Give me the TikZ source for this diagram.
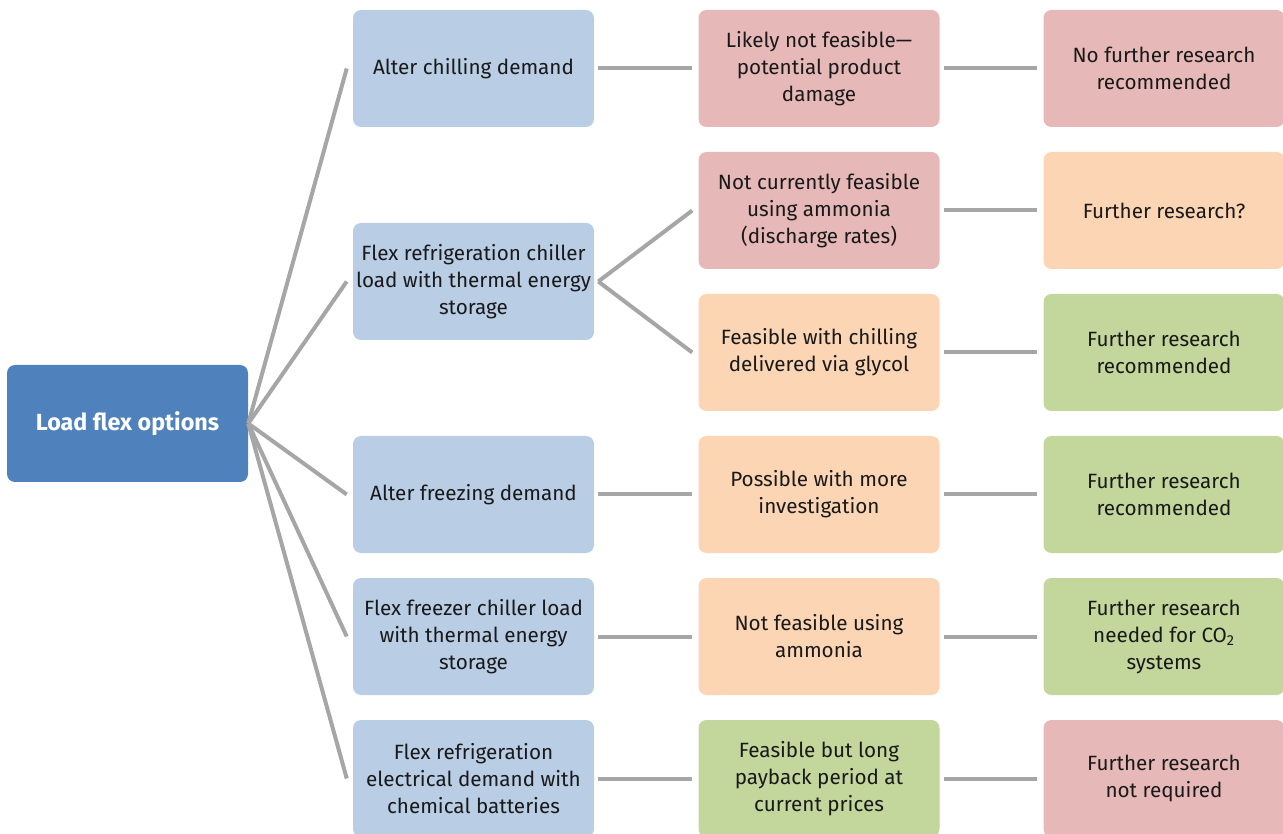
\documentclass[tikz,border=0pt]{standalone}
\usepackage{fontspec}
\setmainfont{Fira Sans}
\begin{document}
\begin{tikzpicture}[x=0.75pt,y=-0.75pt,
  every node/.style={inner sep=0pt},
  box/.style={rounded corners=6pt, minimum width=180.75pt, minimum height=87.75pt, align=center,
    font=\fontsize{15.5pt}{20.25pt}\selectfont, text=black!90},
  root/.style={box, fill=rootblue, text=white, font=\fontsize{17.5pt}{20.25pt}\selectfont\bfseries},
  opt/.style={box, fill=optblue},
  red/.style={box, fill=boxred},
  org/.style={box, fill=boxorange},
  grn/.style={box, fill=boxgreen},
  link/.style={draw=linegray, line width=3pt}
]
\definecolor{rootblue}{HTML}{4F81BD}
\definecolor{optblue}{HTML}{B9CDE5}
\definecolor{boxred}{HTML}{E6B9B8}
\definecolor{boxorange}{HTML}{FCD5B5}
\definecolor{boxgreen}{HTML}{C3D69B}
\definecolor{linegray}{HTML}{A6A6A6}
\useasboundingbox (0,0) rectangle (1283,834);

\node[root] (root) at (127.5,423.5) {Load flex options};

\node[opt] (a1) at (473.5,68.5) {Alter chilling demand};
\node[opt] (a2) at (473.5,281.5) {Flex refrigeration chiller\\load with thermal energy\\storage};
\node[opt] (a3) at (473.5,494.5) {Alter freezing demand};
\node[opt] (a4) at (473.5,636.5) {Flex freezer chiller load\\with thermal energy\\storage};
\node[opt] (a5) at (473.5,778.5) {Flex refrigeration\\electrical demand with\\chemical batteries};

\node[red] (b1) at (819,68.5) {Likely not feasible—\\potential product\\damage};
\node[red] (b2) at (819,210.5) {Not currently feasible\\using ammonia\\(discharge rates)};
\node[org] (b3) at (819,352.5) {Feasible with chilling\\delivered via glycol};
\node[org] (b4) at (819,494.5) {Possible with more\\investigation};
\node[org] (b5) at (819,636.5) {Not feasible using\\ammonia};
\node[grn] (b6) at (819,778.5) {Feasible but long\\payback period at\\current prices};

\node[red] (c1) at (1164,68.5) {No further research\\recommended};
\node[org] (c2) at (1164,210.5) {Further research?};
\node[grn] (c3) at (1164,352.5) {Further research\\recommended};
\node[grn] (c4) at (1164,494.5) {Further research\\recommended};
\node[grn] (c5) at (1164,636.5) {Further research\\needed for CO\textsubscript{2}\\systems};
\node[red] (c6) at (1164,778.5) {Further research\\not required};

\foreach \a in {a1,a2,a3,a4,a5}
  \draw[link] (root.east) -- ([xshift=-4.5pt]\a.west);

\draw[link] ([xshift=3pt]a1.east) -- ([xshift=-4.5pt]b1.west);
\draw[link] ([xshift=3pt]a2.east) -- ([xshift=-4.5pt]b2.west);
\draw[link] ([xshift=3pt]a2.east) -- ([xshift=-4.5pt]b3.west);
\draw[link] ([xshift=3pt]a3.east) -- ([xshift=-4.5pt]b4.west);
\draw[link] ([xshift=3pt]a4.east) -- ([xshift=-4.5pt]b5.west);
\draw[link] ([xshift=3pt]a5.east) -- ([xshift=-4.5pt]b6.west);

\draw[link] ([xshift=3pt]b1.east) -- ([xshift=-4.5pt]c1.west);
\draw[link] ([xshift=3pt]b2.east) -- ([xshift=-4.5pt]c2.west);
\draw[link] ([xshift=3pt]b3.east) -- ([xshift=-4.5pt]c3.west);
\draw[link] ([xshift=3pt]b4.east) -- ([xshift=-4.5pt]c4.west);
\draw[link] ([xshift=3pt]b5.east) -- ([xshift=-4.5pt]c5.west);
\draw[link] ([xshift=3pt]b6.east) -- ([xshift=-4.5pt]c6.west);
\end{tikzpicture}
\end{document}
